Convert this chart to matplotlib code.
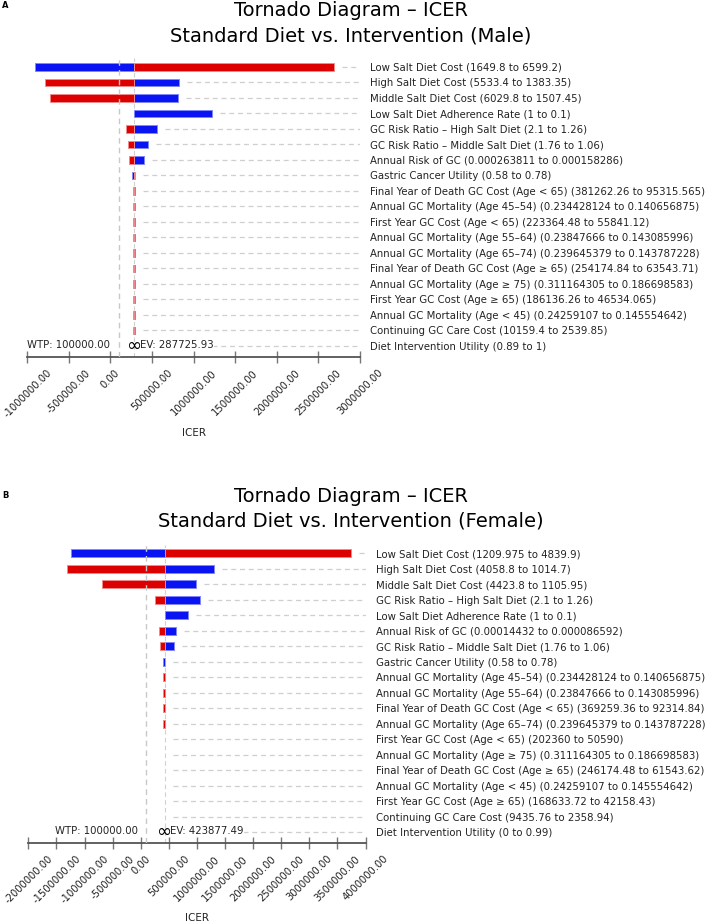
import numpy as np
import matplotlib.pyplot as plt

# ---- data: panel A (Male) ----
labels_a = [
    "Low Salt Diet Cost (1649.8 to 6599.2)",
    "High Salt Diet Cost (5533.4 to 1383.35)",
    "Middle Salt Diet Cost (6029.8 to 1507.45)",
    "Low Salt Diet Adherence Rate (1 to 0.1)",
    "GC Risk Ratio \u2013 High Salt Diet (2.1 to 1.26)",
    "GC Risk Ratio \u2013 Middle Salt Diet (1.76 to 1.06)",
    "Annual Risk of GC (0.000263811 to 0.000158286)",
    "Gastric Cancer Utility (0.58 to 0.78)",
    "Final Year of Death GC Cost (Age < 65) (381262.26 to 95315.565)",
    "Annual GC Mortality (Age 45\u201354) (0.234428124 to 0.140656875)",
    "First Year GC Cost (Age < 65) (223364.48 to 55841.12)",
    "Annual GC Mortality (Age 55\u201364) (0.23847666 to 0.143085996)",
    "Annual GC Mortality (Age 65\u201374) (0.239645379 to 0.143787228)",
    "Final Year of Death GC Cost (Age \u2265 65) (254174.84 to 63543.71)",
    "Annual GC Mortality (Age \u2265 75) (0.311164305 to 0.186698583)",
    "First Year GC Cost (Age \u2265 65) (186136.26 to 46534.065)",
    "Annual GC Mortality (Age < 45) (0.24259107 to 0.145554642)",
    "Continuing GC Care Cost (10159.4 to 2539.85)",
    "Diet Intervention Utility (0.89 to 1)",
]
ev_a = 287725.93
wtp_a = 100000.0
# ICER at the low end (blue) and the high end (red) of each parameter range
icer_low_a = [-911000, 827000, 808000, 1216000, 556000, 452000, 408000, 264000,
              289000, 289000, 289000, 289000, 289000, 289000, 289000, 289000,
              289000, 289000, 287725.93]
icer_high_a = [2690000, -783000, -731000, 287725.93, 192000, 212000, 220000, 290000,
               266000, 267000, 268000, 268000, 269000, 270000, 270000, 271000,
               272000, 273000, 287725.93]
xticks_a = np.arange(-1000000, 3000001, 500000)

# ---- data: panel B (Female) ----
labels_b = [
    "Low Salt Diet Cost (1209.975 to 4839.9)",
    "High Salt Diet Cost (4058.8 to 1014.7)",
    "Middle Salt Diet Cost (4423.8 to 1105.95)",
    "GC Risk Ratio \u2013 High Salt Diet (2.1 to 1.26)",
    "Low Salt Diet Adherence Rate (1 to 0.1)",
    "Annual Risk of GC (0.00014432 to 0.000086592)",
    "GC Risk Ratio \u2013 Middle Salt Diet (1.76 to 1.06)",
    "Gastric Cancer Utility (0.58 to 0.78)",
    "Annual GC Mortality (Age 45\u201354) (0.234428124 to 0.140656875)",
    "Annual GC Mortality (Age 55\u201364) (0.23847666 to 0.143085996)",
    "Final Year of Death GC Cost (Age < 65) (369259.36 to 92314.84)",
    "Annual GC Mortality (Age 65\u201374) (0.239645379 to 0.143787228)",
    "First Year GC Cost (Age < 65) (202360 to 50590)",
    "Annual GC Mortality (Age \u2265 75) (0.311164305 to 0.186698583)",
    "Final Year of Death GC Cost (Age \u2265 65) (246174.48 to 61543.62)",
    "Annual GC Mortality (Age < 45) (0.24259107 to 0.145554642)",
    "First Year GC Cost (Age \u2265 65) (168633.72 to 42158.43)",
    "Continuing GC Care Cost (9435.76 to 2358.94)",
    "Diet Intervention Utility (0 to 0.99)",
]
ev_b = 423877.49
wtp_b = 100000.0
icer_low_b = [-1233000, 1299000, 991000, 1050000, 836000, 630000, 600000, 396000,
              426000, 426000, 426000, 426000, 423877.49, 423877.49, 423877.49,
              423877.49, 423877.49, 423877.49, 423877.49]
icer_high_b = [3744000, -1310000, -687000, 262000, 423877.49, 320000, 338000, 436000,
               396000, 398000, 400000, 402000, 423877.49, 423877.49, 423877.49,
               423877.49, 423877.49, 423877.49, 423877.49]
xticks_b = np.arange(-2000000, 4000001, 500000)

plt.rcParams['font.family'] = 'DejaVu Sans'
plt.rcParams['axes.unicode_minus'] = False

W, H = 709, 924
fig = plt.figure(figsize=(W / 100, H / 100), dpi=100)
fig.patch.set_facecolor('white')

BLUE = '#0a14f2'
RED = '#dc0000'
GRID = '#cfcfcf'


def tornado(ax, labels, lo, hi, ev, wtp, xticks, ylim):
    lo = np.array(lo, dtype=float)
    hi = np.array(hi, dtype=float)
    y = np.arange(len(labels))
    xmin, xmax = xticks[0], xticks[-1]
    ax.set_xlim(xmin, xmax)
    ax.set_ylim(*ylim)

    # bars, drawn from the expected value
    for vals, col, edge in [(lo, BLUE, '#7f86ff'), (hi, RED, '#f28a8a')]:
        m = vals != ev
        left = np.minimum(vals[m], ev)
        width = np.abs(vals[m] - ev)
        ax.barh(y[m], width, left=left, height=0.5, color=col,
                edgecolor=edge, linewidth=0.7, zorder=2)

    # dashed guide lines from bar end to the labels
    px = (xmax - xmin) / (ax.get_position().width * W)
    start = np.maximum(np.maximum(lo, hi), ev) + 8 * px
    ax.hlines(y, start, xmax, colors=GRID, linestyles=(0, (4, 3)), lw=0.9, zorder=1)

    ax.axvline(wtp, color='#c8c8c8', ls=(0, (4, 3)), lw=1, zorder=3)
    ax.axvline(ev, color='#d0d0d0', ls=(0, (4, 3)), lw=0.8, zorder=1.5)

    ax.annotate('WTP: %.2f' % wtp, xy=(wtp, 0), xycoords=('data', 'axes fraction'),
                xytext=(-6, 5.5), textcoords='offset points', ha='right', va='bottom',
                fontsize=7.3, color='#222222')
    ax.annotate('EV: %.2f' % ev, xy=(ev, 0), xycoords=('data', 'axes fraction'),
                xytext=(3.8, 5.5), textcoords='offset points', ha='left', va='bottom',
                fontsize=7.3, color='#222222', zorder=4,
                bbox=dict(facecolor='white', edgecolor='none', pad=0.3))
    ax.annotate('\u221e', xy=(ev, 0), xycoords=('data', 'axes fraction'),
                xytext=(-0.7, 7.8), textcoords='offset points', ha='center', va='center',
                fontsize=13, color='black', zorder=5)

    ax.set_yticks(y)
    ax.set_yticklabels(labels)
    ax.yaxis.tick_right()
    ax.tick_params(axis='y', length=0, pad=7.2, labelsize=7.3, labelcolor='#222222')

    ax.set_xticks(xticks)
    ax.set_xticklabels(['%.2f' % t for t in xticks])
    ax.tick_params(axis='x', direction='inout', length=9, width=1, color='#777777',
                   labelsize=7.2, labelrotation=45, pad=3, labelcolor='#222222')

    for s in ['top', 'left', 'right']:
        ax.spines[s].set_visible(False)
    ax.spines['bottom'].set_color('#555555')
    ax.spines['bottom'].set_linewidth(1.3)
    ax.set_facecolor('none')


ax_a = fig.add_axes([27.3 / W, 1 - 357.3 / H, (360 - 27.3) / W, 299.6 / H])
tornado(ax_a, labels_a, icer_low_a, icer_high_a, ev_a, wtp_a, xticks_a, (18.73, -0.6))

ax_b = fig.add_axes([28.3 / W, 1 - 843.3 / H, (365.5 - 28.3) / W, 298.5 / H])
tornado(ax_b, labels_b, icer_low_b, icer_high_b, ev_b, wtp_b, xticks_b, (18.71, -0.55))

# titles, panel letters and axis titles
fig.text(351 / W, 1 - 11 / H, 'Tornado Diagram \u2013 ICER', ha='center', va='center', fontsize=14)
fig.text(351 / W, 1 - 36 / H, 'Standard Diet vs. Intervention (Male)', ha='center', va='center', fontsize=14)
fig.text(351 / W, 1 - 496 / H, 'Tornado Diagram \u2013 ICER', ha='center', va='center', fontsize=14)
fig.text(351 / W, 1 - 521 / H, 'Standard Diet vs. Intervention (Female)', ha='center', va='center', fontsize=14)

fig.text(2 / W, 1 - 5 / H, 'A', ha='left', va='center', fontsize=6, fontweight='bold')
fig.text(2 / W, 1 - 496 / H, 'B', ha='left', va='center', fontsize=6, fontweight='bold')

fig.text(193.7 / W, 1 - 433 / H, 'ICER', ha='center', va='center', fontsize=7.5, color='#222222')
fig.text(197 / W, 1 - 918 / H, 'ICER', ha='center', va='center', fontsize=7.5, color='#222222')

fig.savefig('out.png', dpi=100, facecolor='white')
